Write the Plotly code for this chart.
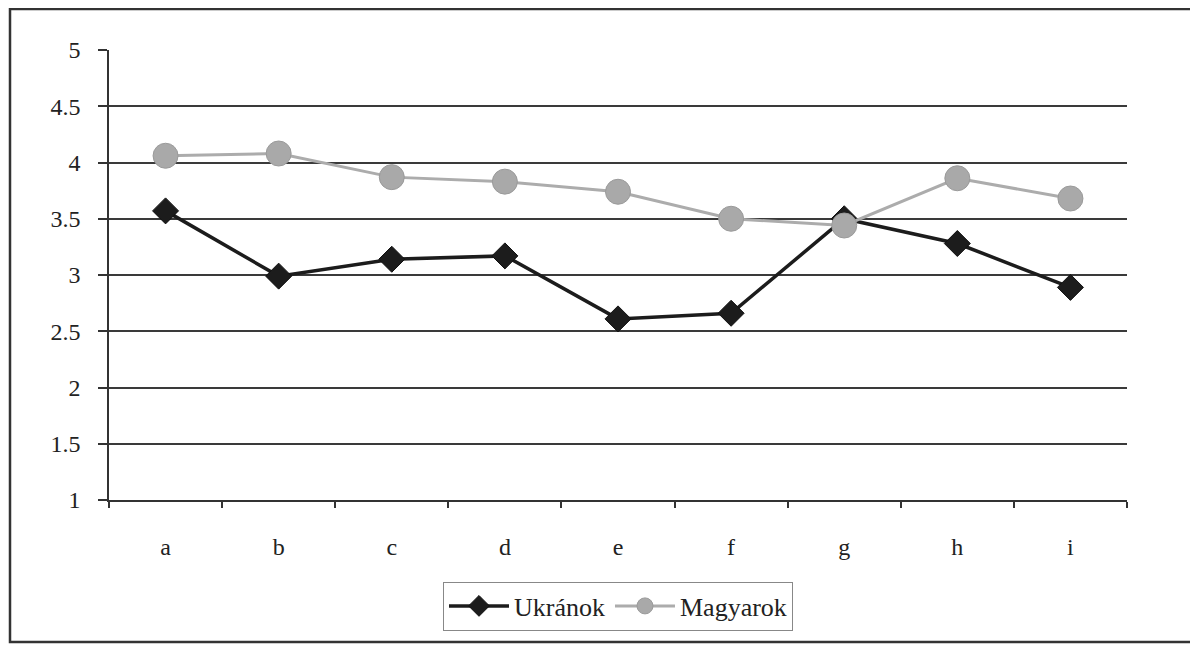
import plotly.graph_objects as go

categories = ["a", "b", "c", "d", "e", "f", "g", "h", "i"]
ukranok = [3.57, 2.99, 3.14, 3.17, 2.61, 2.66, 3.50, 3.28, 2.89]
magyarok = [4.06, 4.08, 3.87, 3.83, 3.74, 3.50, 3.44, 3.86, 3.68]
y_ticks = [1, 1.5, 2, 2.5, 3, 3.5, 4, 4.5, 5]
y_tick_labels = ["1", "1.5", "2", "2.5", "3", "3.5", "4", "4.5", "5"]

FONT = "Liberation Serif"
TXT = "#222222"

fig = go.Figure()
fig.add_trace(go.Scatter(
    x=categories, y=ukranok, name="Ukránok", mode="lines+markers",
    line=dict(color="#1c1c1c", width=3.5),
    marker=dict(symbol="diamond", size=20, color="#1c1c1c",
                line=dict(color="#111111", width=1)),
))
fig.add_trace(go.Scatter(
    x=categories, y=magyarok, name="Magyarok", mode="lines+markers",
    line=dict(color="#acacac", width=3),
    marker=dict(symbol="circle", size=25, color="#a9a9a9",
                line=dict(color="#9a9a9a", width=1)),
))

# page is offset by the 8px body margin
OFF = 8
W, H = 1198 - OFF, 646 - OFF
L, R, T, B = 109 - OFF, 1127 - OFF, 50 - OFF, 500 - OFF

def px(p):
    return (p - OFF - L) / (R - L)

def py(p):
    return (B - (p - OFF)) / (B - T)

fig.update_layout(
    width=W, height=H,
    margin=dict(l=L, r=W - R, t=T, b=H - B, pad=0),
    paper_bgcolor="white", plot_bgcolor="white",
    font=dict(family=FONT, size=24, color=TXT),
    showlegend=True,
    legend=dict(
        orientation="h", x=px(618), y=py(606), xanchor="center", yanchor="middle",
        bordercolor="#888888", borderwidth=1, bgcolor="white",
        font=dict(family=FONT, size=26, color=TXT),
        itemwidth=60, tracegroupgap=0,
    ),
    xaxis=dict(
        type="category", tickson="boundaries", range=[-0.5, 8.5],
        showgrid=False, showline=True, linecolor="#333333", linewidth=1.5,
        ticks="outside", ticklen=6, tickwidth=1.5, tickcolor="#333333",
        tickfont=dict(family=FONT, size=24, color=TXT),
        ticklabelstandoff=24, zeroline=False,
    ),
    yaxis=dict(
        range=[1, 5], tickvals=y_ticks, ticktext=y_tick_labels,
        showgrid=True, gridcolor="#3a3a3a", gridwidth=1.5,
        showline=True, linecolor="#333333", linewidth=1.5,
        ticks="outside", ticklen=9, tickwidth=1.5, tickcolor="#333333",
        tickfont=dict(family=FONT, size=24, color=TXT),
        ticklabelstandoff=13, zeroline=False,
    ),
    shapes=[
        dict(type="rect", xref="paper", yref="paper",
             x0=px(10), x1=px(1205), y0=py(642), y1=py(9),
             line=dict(color="#333333", width=2.5), fillcolor="rgba(0,0,0,0)",
             layer="below"),
    ],
)

fig.write_html("out.html")
